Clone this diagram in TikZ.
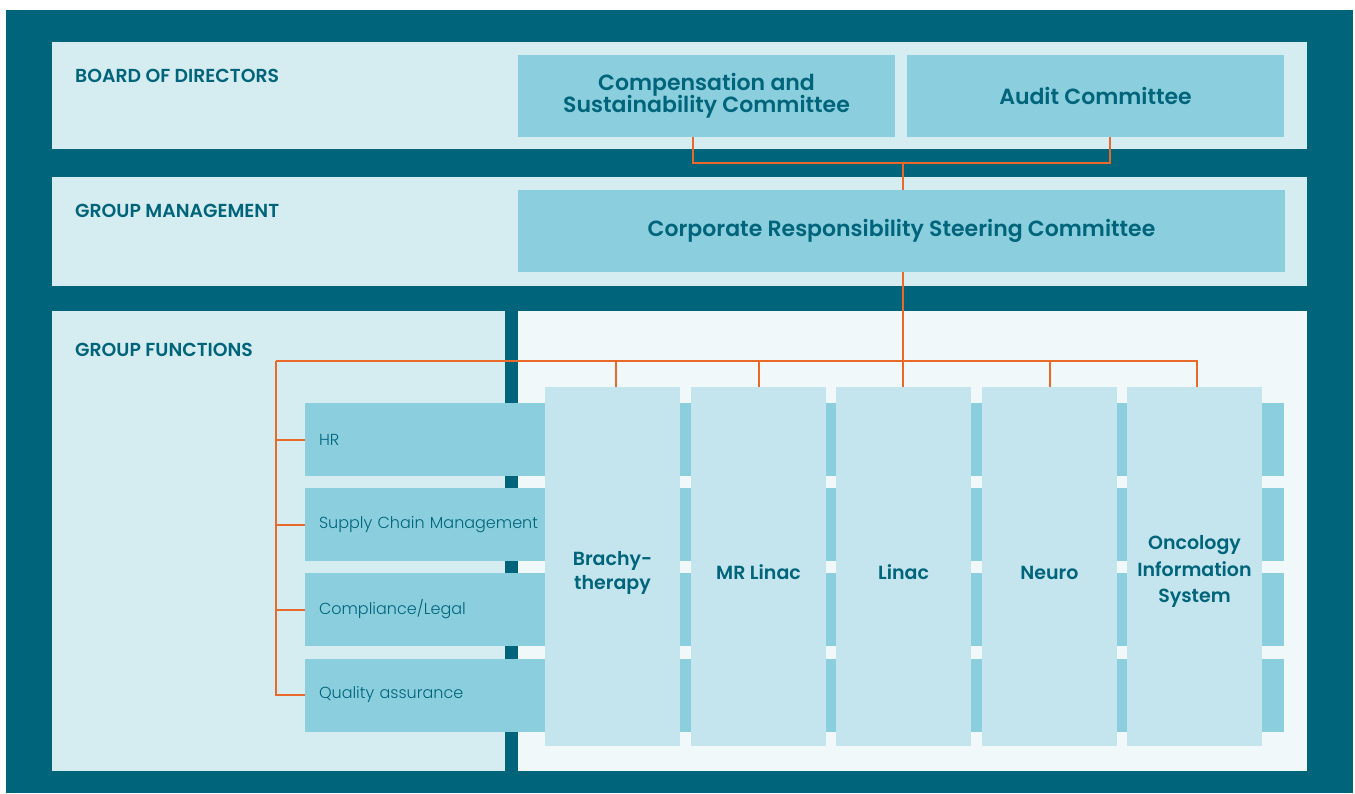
\documentclass[tikz,border=0pt]{standalone}
\usepackage{fontspec}
\setmainfont{Poppins}
\newfontfamily\semib{Poppins SemiBold}
\newfontfamily\lightf{Poppins Light}
\definecolor{dark}{HTML}{00647A}
\definecolor{band}{HTML}{D5ECF0}
\definecolor{pale}{HTML}{F0F8FA}
\definecolor{mid}{HTML}{8BCFDF}
\definecolor{colc}{HTML}{C4E5EE}
\definecolor{orng}{HTML}{E8692A}
\definecolor{txt}{HTML}{00647A}
\tikzset{
  box/.style={fill=mid, draw=none, inner sep=0pt, outer sep=0pt, anchor=north west, text=txt, align=center,
     font=\semib\fontsize{22}{21}\selectfont},
  rowbox/.style={fill=mid, draw=none, inner ysep=0pt, inner xsep=14pt, outer sep=0pt, anchor=north west,
     minimum height=73pt, text width=951pt, align=left, text=txt, font=\lightf\fontsize{16}{18}\selectfont},
  colbox/.style={fill=colc, draw=none, inner sep=0pt, outer sep=0pt, anchor=north west, minimum width=135pt, minimum height=359pt},
  coltext/.style={text=txt, align=center, font=\semib\fontsize{19}{24}\selectfont, yshift=-6pt},
  headtext/.style={text=txt, anchor=base west, inner sep=0pt, font=\semib\fontsize{18.8}{20}\selectfont},
  conn/.style={draw=orng, line width=2pt},
}
\begin{document}
\begin{tikzpicture}[x=1pt, y=-1pt]
\useasboundingbox (0,0) rectangle (1355,794);
% frame and bands
\fill[dark] (6,10) rectangle (1353,793);
\fill[band] (52,42) rectangle (1307,149);
\fill[band] (52,177) rectangle (1307,286);
\fill[band] (52,311) rectangle (505,771);
\fill[pale] (518,311) rectangle (1307,771);
% section headings
\node[headtext] (bod) at (75,82.5) {BOARD OF DIRECTORS};
\node[headtext] (gm) at (75,217.5) {GROUP MANAGEMENT};
\node[headtext] (gf) at (75,356.5) {GROUP FUNCTIONS};
% committees
\node[box, minimum width=377pt, minimum height=82pt] (comp) at (518,55) {Compensation and\\[-2pt]Sustainability Committee};
\node[box, minimum width=377pt, minimum height=82pt] (audit) at (907,55) {Audit Committee};
\node[box, minimum width=767pt, minimum height=82pt] (steer) at (518,190) {Corporate Responsibility Steering Committee};
% group function rows
\node[rowbox] (hr) at (305,403) {HR};
\node[rowbox] (scm) at (305,488) {Supply Chain Management};
\node[rowbox] (cl) at (305,573) {Compliance/Legal};
\node[rowbox] (qa) at (305,658.5) {Quality assurance};
% business line columns
\node[colbox, label={[coltext]center:Brachy-\\therapy}] (brachy) at (545,387) {};
\node[colbox, label={[coltext]center:MR Linac}] (mrl) at (691,387) {};
\node[colbox, label={[coltext]center:Linac}] (linac) at (836,387) {};
\node[colbox, label={[coltext]center:Neuro}] (neuro) at (982,387) {};
\node[colbox, label={[coltext, yshift=1pt, font=\semib\fontsize{19}{26.5}\selectfont]center:Oncology\\Information\\System}] (ois) at (1127,387) {};
% connectors
\coordinate (j1) at (903,163);
\coordinate (busL) at (276,361);
\coordinate (busR) at (1197,361);
\draw[conn] ([xshift=-13.5pt]comp.south) |- (j1) -| ([xshift=14.5pt]audit.south);
\draw[conn] (j1) -- (j1 |- steer.north);
\draw[conn] (j1 |- steer.south) -- (j1 |- linac.north);
\draw[conn] (busL) -- (busR) -- (busR |- ois.north);
\draw[conn] ([xshift=3.5pt]brachy.north) -- ([xshift=3.5pt]brachy.north |- busL);
\draw[conn] (mrl.north) -- (mrl.north |- busL);
\draw[conn] (neuro.north) -- (neuro.north |- busL);
\draw[conn] (busL) |- (qa.west);
\draw[conn] (busL |- hr.west) -- (hr.west);
\draw[conn] (busL |- scm.west) -- (scm.west);
\draw[conn] (busL |- cl.west) -- (cl.west);
\end{tikzpicture}
\end{document}
